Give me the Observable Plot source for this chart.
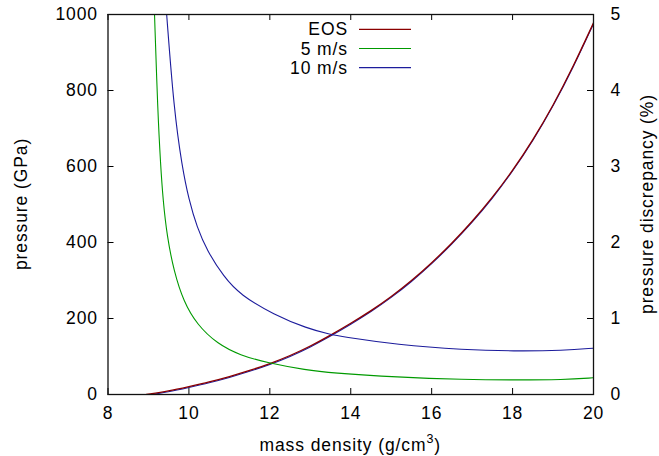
<!DOCTYPE html>
<html>
<head>
<meta charset="utf-8">
<script src="https://cdn.jsdelivr.net/npm/d3@7"></script>
<script src="https://cdn.jsdelivr.net/npm/@observablehq/plot@0.6"></script>
<style>
  html, body { margin: 0; padding: 0; background: #fff; }
  #chart { width: 659px; height: 456px; }
</style>
</head>
<body>
<div id="chart"></div>
<script>
// ---- data ----
const eosDensity  = [8.95, 9.5, 10, 10.5, 11, 11.5, 12, 12.5, 13, 13.5, 14, 14.5, 15, 15.5, 16, 16.5, 17, 17.5, 18, 18.5, 19, 19.5, 20];
const eosPressure = [0, 9, 21, 33, 47, 63, 81, 102, 127, 156, 187, 220, 257, 299, 346, 398, 455, 518, 589, 669, 760, 863, 978];

const v5Density     = [9.15, 9.23, 9.30, 9.36, 9.46, 9.63, 9.87, 10.2, 10.7, 11.27, 11.93, 12.92, 13.5, 15.15, 16.8, 18.03, 19.27, 20];
const v5Discrepancy = [5, 3.72, 3.02, 2.56, 2.08, 1.62, 1.22, 0.92, 0.667, 0.515, 0.418, 0.32, 0.285, 0.228, 0.197, 0.19, 0.195, 0.22];

const v10Density     = [9.45, 9.63, 9.83, 10.0, 10.2, 10.45, 10.86, 11.27, 12.1, 12.92, 13.5, 13.75, 15.15, 16.8, 18.03, 19.27, 20];
const v10Discrepancy = [5, 3.75, 3.0, 2.56, 2.2, 1.89, 1.55, 1.31, 1.05, 0.87, 0.79, 0.763, 0.654, 0.588, 0.57, 0.579, 0.61];

const densityTicks     = [8, 10, 12, 14, 16, 18, 20];
const pressureTicks    = [0, 200, 400, 600, 800, 1000];
const discrepancyTicks = [0, 1, 2, 3, 4, 5];

const seriesNames  = ["EOS", "5 m/s", "10 m/s"];
const seriesColors = ["#8b0000", "#009a00", "#1c1c9c"];

const pressureMax = 1000, discrepancyMax = 5;
const toPressure = d => d * pressureMax / discrepancyMax;

const eos  = eosDensity.map((r, i) => ({r, p: eosPressure[i]}));
const v5   = v5Density.map((r, i) => ({r, p: toPressure(v5Discrepancy[i])}));
const v10  = v10Density.map((r, i) => ({r, p: toPressure(v10Discrepancy[i])}));

// ---- layout ----
const W = 659, H = 456;
const mL = 107.5, mR = 66, mT = 14, mB = 62;
const frameW = W - mL - mR, frameH = H - mT - mB;
const tickLen = 6;
const font = "'Liberation Sans', Arial, Helvetica, sans-serif";
const fs = 17.5;
const ls = "0.9px";
const crv = "basis";

const chart = Plot.plot({
  width: W, height: H,
  marginLeft: mL, marginRight: mR, marginTop: mT, marginBottom: mB,
  style: {fontFamily: font, fontSize: fs + "px", color: "#000", background: "#fff", letterSpacing: ls},
  x: {domain: [8, 20]},
  y: {domain: [0, pressureMax]},
  marks: [
    // curves
    Plot.line(eos, {x: "r", y: "p", stroke: seriesColors[2], strokeWidth: 1.1, curve: crv, dy: 0.9, clip: true}),
    Plot.line(eos, {x: "r", y: "p", stroke: seriesColors[0], strokeWidth: 1.3, curve: crv, clip: true}),
    Plot.line(v5,  {x: "r", y: "p", stroke: seriesColors[1], strokeWidth: 1.1, curve: crv, clip: true}),
    Plot.line(v10, {x: "r", y: "p", stroke: seriesColors[2], strokeWidth: 1.1, curve: crv, clip: true}),
    // inward ticks
    Plot.tickX(densityTicks, {x: d => d, insetTop: frameH - tickLen, stroke: "#000"}),
    Plot.tickX(densityTicks, {x: d => d, insetBottom: frameH - tickLen, stroke: "#000"}),
    Plot.tickY(pressureTicks, {y: d => d, insetRight: frameW - tickLen, stroke: "#000"}),
    Plot.tickY(discrepancyTicks.map(toPressure), {y: d => d, insetLeft: frameW - tickLen, stroke: "#000"}),
    Plot.frame({stroke: "#111", strokeWidth: 1.3}),
    // tick labels
    Plot.axisX({ticks: densityTicks, tickSize: 0, tickPadding: 12, tickFormat: d => String(d), label: null, fontSize: fs}),
    Plot.axisY({ticks: pressureTicks, tickSize: 0, tickPadding: 10, tickFormat: d => String(d), label: null, fontSize: fs}),
    Plot.axisY({anchor: "right", ticks: discrepancyTicks.map(toPressure), tickFormat: d => String(d * discrepancyMax / pressureMax),
                tickSize: 0, tickPadding: 17, label: null, fontSize: fs, textAnchor: "start"})
  ]
});

document.getElementById("chart").appendChild(chart);

// ---- titles and legend ----
const svg = d3.select(chart);
const txt = sel => sel.attr("font-family", font).attr("font-size", fs).attr("fill", "#000").style("letter-spacing", ls);
svg.append("text")
  .attr("transform", `translate(21,${mT + frameH / 2}) rotate(-90)`)
  .attr("text-anchor", "middle").attr("dominant-baseline", "central")
  .call(txt).text("pressure (GPa)");
svg.append("text")
  .attr("transform", `translate(647,${mT + frameH / 2}) rotate(-90)`)
  .attr("text-anchor", "middle").attr("dominant-baseline", "central")
  .call(txt).text("pressure discrepancy (%)");
const xl = svg.append("text")
  .attr("x", mL + frameW / 2).attr("y", 450.5)
  .attr("text-anchor", "middle").call(txt);
xl.append("tspan").text("mass density (g/cm");
xl.append("tspan").attr("dy", -7.5).attr("font-size", 12.5).text("3");
xl.append("tspan").attr("dy", 7.5).text(")");

const leg = svg.append("g");
seriesNames.forEach((name, i) => {
  const yy = 29.3 + i * 19.2;
  leg.append("text").attr("x", 348).attr("y", yy).attr("text-anchor", "end")
    .attr("dominant-baseline", "central").call(txt).text(name);
  leg.append("line").attr("x1", 359).attr("x2", 411).attr("y1", yy).attr("y2", yy)
    .attr("stroke", seriesColors[i]).attr("stroke-width", 1.2);
});
</script>
</body>
</html>
